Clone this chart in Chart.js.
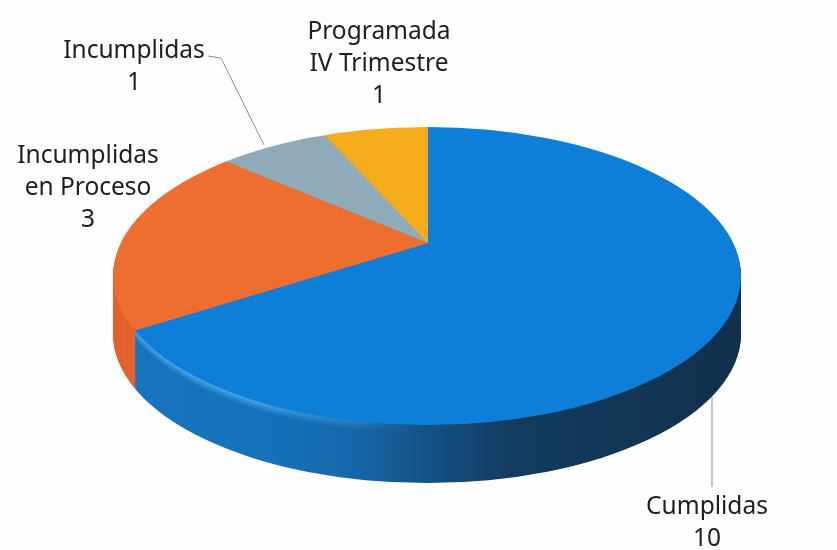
<!DOCTYPE html>
<html>
<head>
<meta charset="utf-8">
<script src="https://cdn.jsdelivr.net/npm/chart.js@4"></script>
<style>
html,body{margin:0;padding:0;background:#fefefe;}
canvas{display:block;}
</style>
</head>
<body>
<canvas id="c" width="837" height="550"></canvas>
<script>
const categories = ['Cumplidas', 'Incumplidas en Proceso', 'Incumplidas', 'Programada IV Trimestre'];
const values = [10, 3, 1, 1];
const labelLines = [['Cumplidas'], ['Incumplidas', 'en Proceso'], ['Incumplidas'], ['Programada', 'IV Trimestre']];
const faceColors = ['#0e7fd8', '#ee6e2f', '#8fabb9', '#f6ad1c'];
const sideColors = ['#1672ba', '#e4622d', '#7c95a2', '#d99a18'];

const labelBoxes = [
  {x: 707, y: 507}, {x: 88, y: 156}, {x: 134, y: 51}, {x: 379, y: 32}
];
const leaders = [
  [[712, 397], [712, 487]],
  null,
  [[208, 56], [221, 58], [264, 145]],
  null
];
const geom = {ax: 428, ay: 243, ex: 427, ey: 276, rx: 314, ry: 149, depth: 58, aspect: 2.1, shear: -0.05, vr: 340};

function sideBlue(ctx, t, dz) {
  const g = ctx.createLinearGradient(t(137), 0, t(740), 0);
  const h = Math.max(0, 1 - dz / 9);
  const mix = (a, b, m) => 'rgb(' + a.map((v, i) => Math.round(v + (b[i] - v) * m)).join(',') + ')';
  const hi = [80, 175, 240];
  const stop = (p, c, m) => g.addColorStop(p, mix(c, hi, m * h));
  stop(0, [22, 116, 188], .9);
  stop(.2, [22, 114, 186], .85);
  stop(.36, [21, 104, 170], .35);
  stop(.46, [20, 86, 140], 0);
  stop(.62, [18, 60, 96], 0);
  stop(1, [17, 48, 76], 0);
  return g;
}

const pie3d = {
  id: 'pie3d',
  beforeDatasetsDraw(chart) {
    const ctx = chart.ctx;
    const meta = chart.getDatasetMeta(0);
    const first = meta.data[0];
    const cx = first.x, cy = first.y, R = first.outerRadius;
    const k = geom.vr / R;
    const sx = k * geom.aspect, sy = k;
    const toUnit = X => (X - geom.ax) / sx + cx;

    const layer = (dz, colorFor) => {
      ctx.save();
      ctx.beginPath();
      ctx.ellipse(geom.ex, geom.ey + dz, geom.rx, geom.ry, 0, 0, Math.PI * 2);
      ctx.clip();
      ctx.transform(sx, geom.shear * sy, 0, sy, geom.ax, geom.ay + dz);
      ctx.translate(-cx, -cy);
      meta.data.forEach((arc, i) => {
        const saved = arc.options;
        arc.options = Object.assign({}, saved, {
          backgroundColor: colorFor(i), borderWidth: 0, offset: 0, spacing: 0, borderRadius: 0
        });
        arc.draw(ctx);
        arc.options = saved;
      });
      ctx.restore();
    };

    for (let dz = geom.depth; dz >= 1; dz--) {
      const blue = sideBlue(ctx, toUnit, dz);
      layer(dz, i => (i === 0 ? blue : sideColors[i]));
    }
    layer(0, i => faceColors[i]);
    return false;
  },
  afterDraw(chart) {
    const ctx = chart.ctx;
    ctx.save();
    ctx.strokeStyle = '#8d8d8d';
    ctx.lineWidth = 1;
    leaders.forEach(pts => {
      if (!pts) return;
      ctx.beginPath();
      pts.forEach((p, i) => (i ? ctx.lineTo(p[0], p[1]) : ctx.moveTo(p[0], p[1])));
      ctx.stroke();
    });
    ctx.fillStyle = '#202020';
    ctx.font = '24.5px "Noto Sans"';
    ctx.textAlign = 'center';
    ctx.textBaseline = 'middle';
    labelLines.forEach((lines, i) => {
      const b = labelBoxes[i];
      lines.concat(String(values[i])).forEach((t, j) => ctx.fillText(t, b.x, b.y + j * 32));
    });
    ctx.restore();
  }
};

new Chart(document.getElementById('c'), {
  type: 'pie',
  data: {labels: categories, datasets: [{data: values, backgroundColor: faceColors, borderWidth: 0}]},
  options: {
    responsive: false,
    animation: false,
    plugins: {legend: {display: false}, tooltip: {enabled: false}}
  },
  plugins: [pie3d]
});
</script>
</body>
</html>
